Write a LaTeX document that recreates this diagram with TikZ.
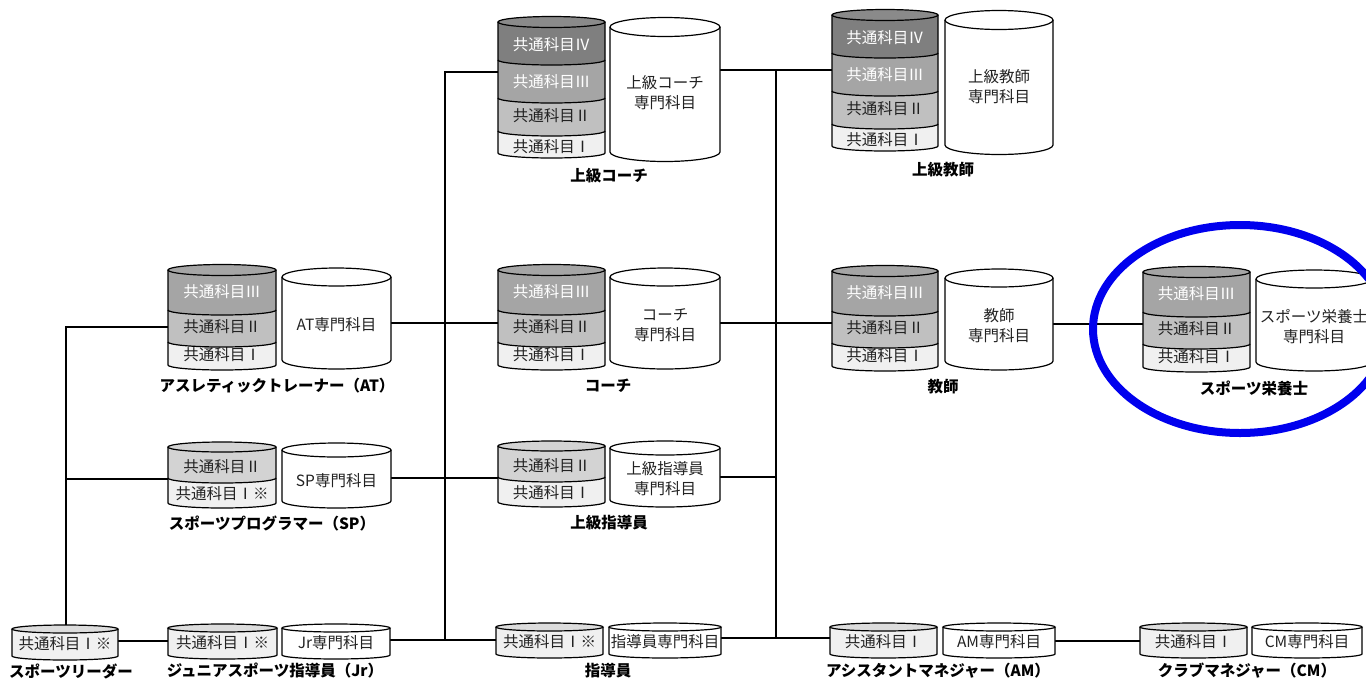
\documentclass[tikz,border=0pt]{standalone}
\usepackage{fontspec}
\setmainfont{Noto Sans CJK JP}
\definecolor{cIVt}{HTML}{8A8A8A}
\definecolor{cIV}{HTML}{7F7F7F}
\definecolor{cIII}{HTML}{A5A5A5}
\definecolor{cII}{HTML}{C0C0C0}
\definecolor{cIIb}{HTML}{D3D3D3}
\definecolor{cI}{HTML}{F0F0F0}
\definecolor{cIt}{HTML}{DCDCDC}
\definecolor{ink}{HTML}{222222}
\definecolor{ring}{HTML}{0000EE}
\tikzset{
  outl/.style={draw=black, line width=1.2pt},
  conn/.style={draw=black, line width=1.8pt},
  intext/.style={font=\fontsize{15.5}{20}\selectfont, inner sep=0pt, align=center, text=ink},
  wtext/.style={intext, text=white},
  lbl/.style={font=\fontsize{15.5}{18}\selectfont\bfseries, inner sep=0pt, text=black},
}
% segment of a cylinder: x1, x2, top y, bottom y (sides), ry, fill
\newcommand\cylseg[6]{%
  \pgfmathsetmacro\crx{((#2)-(#1))/2}%
  \filldraw[outl, fill=#6] ({#1},{#3}) -- ({#1},{#4}) arc[start angle=180, end angle=0, x radius=\crx, y radius=#5] -- ({#2},{#3});
}
% top ellipse: x1, x2, y, ry, fill
\newcommand\cyltop[5]{%
  \pgfmathsetmacro\crx{((#2)-(#1))/2}%
  \filldraw[outl, fill=#5] ({((#1)+(#2))/2},{#3}) ellipse[x radius=\crx, y radius=#4];
}
% four-layer stack: name, x1, x2, y0
\newcommand\stackfour[4]{%
  \cylseg{#2}{#3}{#4+109}{#4+131}{5}{cI}
  \node[intext] (#1-1) at ({(#2+#3)/2},{#4+125}) {共通科目Ⅰ};
  \cylseg{#2}{#3}{#4+76}{#4+109}{5}{cII}
  \node[intext] (#1-2) at ({(#2+#3)/2},{#4+94}) {共通科目Ⅱ};
  \cylseg{#2}{#3}{#4+38}{#4+76}{5}{cIII}
  \node[wtext] (#1-3) at ({(#2+#3)/2},{#4+60}) {共通科目Ⅲ};
  \cylseg{#2}{#3}{#4}{#4+38}{5}{cIV}
  \node[wtext] (#1-4) at ({(#2+#3)/2},{#4+23}) {共通科目Ⅳ};
  \cyltop{#2}{#3}{#4}{5.5}{cIVt}
}
\newcommand\stackthree[4]{%
  \cylseg{#2}{#3}{#4+72}{#4+95}{5}{cI}
  \node[intext] (#1-1) at ({(#2+#3)/2},{#4+85}) {共通科目Ⅰ};
  \cylseg{#2}{#3}{#4+40}{#4+72}{5}{cII}
  \node[intext] (#1-2) at ({(#2+#3)/2},{#4+57}) {共通科目Ⅱ};
  \cylseg{#2}{#3}{#4}{#4+40}{5}{cIII}
  \node[wtext] (#1-3) at ({(#2+#3)/2},{#4+22}) {共通科目Ⅲ};
  \cyltop{#2}{#3}{#4}{5.5}{cIII}
}
% two-layer stack: name, x1, x2, y0, text of lower layer
\newcommand\stacktwo[5]{%
  \cylseg{#2}{#3}{#4+31}{#4+56}{5}{cI}
  \node[intext] (#1-1) at ({(#2+#3)/2},{#4+47}) {#5};
  \cylseg{#2}{#3}{#4}{#4+31}{5}{cIIb}
  \node[intext] (#1-2) at ({(#2+#3)/2},{#4+20}) {共通科目Ⅱ};
  \cyltop{#2}{#3}{#4}{5}{cIIb}
}
\newcommand\stackone[5]{%
  \cylseg{#2}{#3}{#4}{#4+27}{4}{cI}
  \cyltop{#2}{#3}{#4}{4}{cIt}
  \node[intext] (#1-1) at ({(#2+#3)/2},{#4+15}) {#5};
}
% plain cylinder: name, x1, x2, top y, ry, bottom y, text y, text
\newcommand\spcyl[8]{%
  \cylseg{#2}{#3}{#4}{#6}{#5}{white}
  \cyltop{#2}{#3}{#4}{#5}{white}
  \node[intext] (#1) at ({(#2+#3)/2},{#7}) {#8};
}
\begin{document}
\begin{tikzpicture}[x=1pt, y=-1pt]
\useasboundingbox (0,0) rectangle (1366,681);
\clip (0,0) rectangle (1366,681);
\fill[white] (0,0) rectangle (1366,681);

% connection points
\coordinate (J1a) at (66,327);
\coordinate (J1b) at (66,479);
\coordinate (LDn) at (66,626);
\coordinate (ATw) at (168,327);
\coordinate (SPw) at (168,479);
\coordinate (LDe) at (118,641);
\coordinate (JRw) at (168,641);
\coordinate (JRe) at (390,640);
\coordinate (SDw) at (496,640);
\coordinate (J2a) at (445,72);
\coordinate (J2b) at (445,640);
\coordinate (UCw) at (498,72);
\coordinate (ATe) at (391,323);
\coordinate (Cw) at (498,323);
\coordinate (SPe) at (391,478);
\coordinate (USw) at (498,478);
\coordinate (UCe) at (720,70);
\coordinate (UTw) at (832,70);
\coordinate (J3a) at (776,70);
\coordinate (J3b) at (776,638);
\coordinate (J3c) at (776,477);
\coordinate (Ce) at (720,323);
\coordinate (Tw) at (832,323);
\coordinate (USe) at (720,477);
\coordinate (SDe) at (721,638);
\coordinate (AMw) at (830,638);
\coordinate (Te) at (1053,324);
\coordinate (SNw) at (1143,324);
\coordinate (AMe) at (1055,641);
\coordinate (CMw) at (1140,641);

% connectors
\draw[conn] (LDn) -- (J1a) -- (ATw);
\draw[conn] (J1b) -- (SPw);
\draw[conn] (LDe) -- (JRw);
\draw[conn] (JRe) -- (SDw);
\draw[conn] (J2b) -- (J2a) -- (UCw);
\draw[conn] (ATe) -- (Cw);
\draw[conn] (SPe) -- (USw);
\draw[conn] (UCe) -- (UTw);
\draw[conn] (J3a) -- (J3b);
\draw[conn] (Ce) -- (Tw);
\draw[conn] (USe) -- (J3c);
\draw[conn] (SDe) -- (AMw);
\draw[conn] (Te) -- (SNw);
\draw[conn] (AMe) -- (CMw);

% 上級コーチ
\stackfour{uc}{498}{605}{22}
\spcyl{ucS}{610}{720}{27}{9.5}{152}{93}{上級コーチ\\専門科目}
\node[lbl] (ucL) at (609,176) {上級コーチ};
% 上級教師
\stackfour{ut}{832}{938}{15}
\spcyl{utS}{945}{1053}{20}{9.5}{145}{87}{上級教師\\専門科目}
\node[lbl] (utL) at (943,170) {上級教師};
% AT
\stackthree{at}{168}{276}{270}
\spcyl{atS}{282}{391}{277}{9}{360}{325}{AT専門科目}
\node[lbl] (atL) at (277,386) {アスレティックトレーナー（AT）};
% コーチ
\stackthree{co}{498}{605}{270}
\spcyl{coS}{610}{720}{277}{9}{360}{325}{コーチ\\専門科目}
\node[lbl] (coL) at (608,386) {コーチ};
% 教師
\stackthree{te}{832}{938}{271}
\spcyl{teS}{945}{1053}{278}{9}{361}{326}{教師\\専門科目}
\node[lbl] (teL) at (943,387) {教師};
% スポーツ栄養士
\stackthree{sn}{1143}{1250}{272}
\spcyl{snS}{1256}{1372}{279}{9}{362}{327}{スポーツ栄養士\\専門科目}
\node[lbl] (snL) at (1254,388) {スポーツ栄養士};
% SP
\stacktwo{sp}{168}{276}{447}{共通科目Ⅰ※}
\spcyl{spS}{282}{391}{450}{7}{501}{481}{SP専門科目}
\node[lbl] (spL) at (272,523) {スポーツプログラマー（SP）};
% 上級指導員
\stacktwo{us}{498}{605}{446}{共通科目Ⅰ}
\spcyl{usS}{610}{720}{448}{7}{500}{479}{上級指導員\\専門科目}
\node[lbl] (usL) at (609,523) {上級指導員};
% bottom row
\stackone{ld}{12}{118}{629}{共通科目Ⅰ※}
\node[lbl] (ldL) at (71,671) {スポーツリーダー};
\stackone{jr}{168}{277}{628}{共通科目Ⅰ※}
\spcyl{jrS}{282}{390}{628}{4}{655}{643}{Jr専門科目}
\node[lbl] (jrL) at (275,671) {ジュニアスポーツ指導員（Jr）};
\stackone{sd}{496}{603}{627}{共通科目Ⅰ※}
\spcyl{sdS}{609}{721}{627}{4}{654}{642}{指導員専門科目}
\node[lbl] (sdL) at (608,671) {指導員};
\stackone{am}{830}{937}{627}{共通科目Ⅰ}
\spcyl{amS}{943}{1055}{627}{4}{654}{642}{AM専門科目}
\node[lbl] (amL) at (938,671) {アシスタントマネジャー（AM）};
\stackone{cm}{1140}{1247}{627}{共通科目Ⅰ}
\spcyl{cmS}{1252}{1362}{627}{4}{654}{642}{CM専門科目}
\node[lbl] (cmL) at (1247,671) {クラブマネジャー（CM）};

% highlight ring
\draw[ring, line width=8pt] (1240,329) ellipse[x radius=147, y radius=104];
\end{tikzpicture}
\end{document}
